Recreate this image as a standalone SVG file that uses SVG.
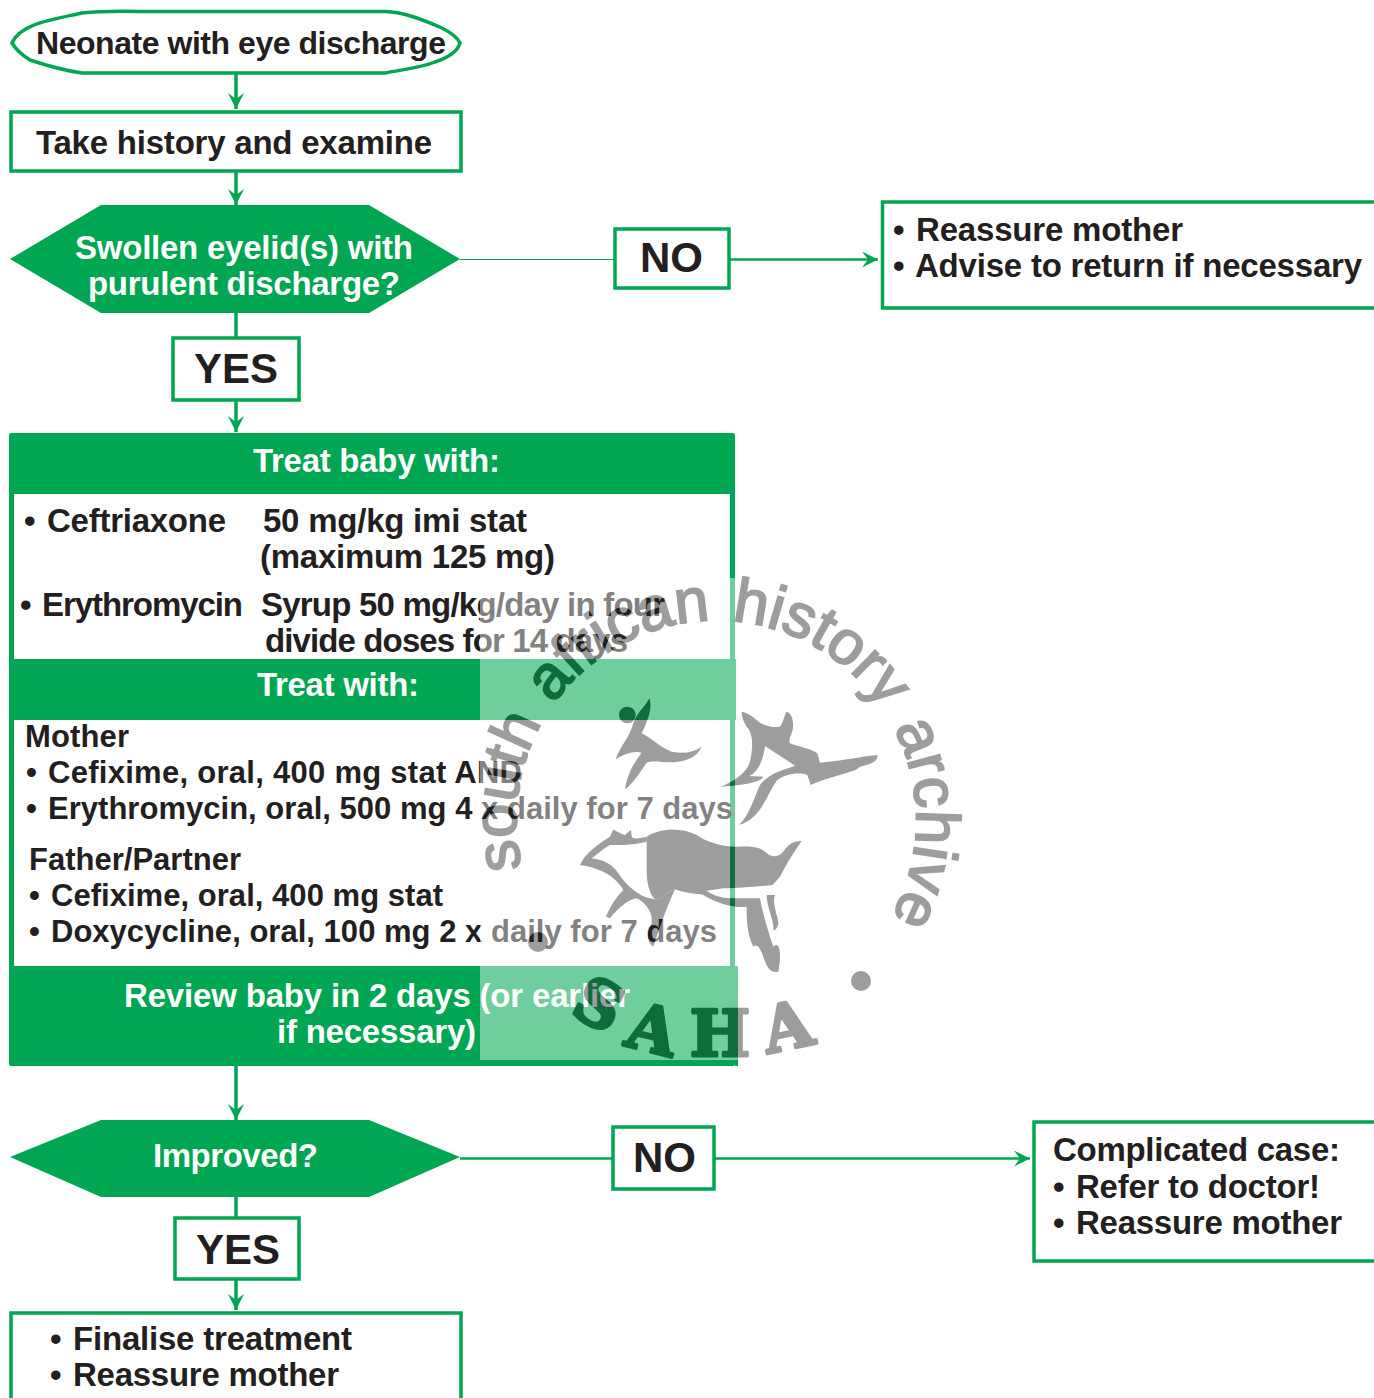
<svg xmlns="http://www.w3.org/2000/svg" width="1374" height="1398" viewBox="0 0 1374 1398">
<defs>
<marker id="arr" markerUnits="userSpaceOnUse" markerWidth="18" markerHeight="18" refX="16" refY="8" orient="auto"><path d="M0,0L16,8L0,16L6,8Z" fill="#00a651"/></marker>
</defs>
<style>
text{font-family:"Liberation Sans",Arial,sans-serif;font-weight:700;font-size:33px;fill:#231f20}
.w{fill:#fff}
.big{font-size:42px}
.box{fill:#fff;stroke:#00a651;stroke-width:3.500}
.g{fill:#00a651}
.c{fill:none;stroke:#00a651;stroke-width:3.500}
.t{fill:none;stroke:#00a651;stroke-width:1}
.n{stroke-width:2.500}
.m{font-size:31px}
.wm{fill:#232323;font-size:61.500px;font-weight:400;word-spacing:4px;stroke:#232323;stroke-width:2}
.sl{fill:#232323;stroke:#232323;stroke-width:3;stroke-linejoin:round;font-family:"DejaVu Serif",serif;font-weight:700;font-size:64px;text-anchor:middle}
</style>
<g id="connectors">
<path class="c" d="M236,74V109" marker-end="url(#arr)"/>
<path class="c" d="M236,171V205" marker-end="url(#arr)"/>
<path class="c" d="M236,313V338"/>
<path class="c" d="M236,401V432" marker-end="url(#arr)"/>
<path class="t" d="M460,259.500H615"/>
<path class="c n" d="M730,259.500H878" marker-end="url(#arr)"/>
<path class="c" d="M236,1066V1120" marker-end="url(#arr)"/>
<path class="c n" d="M460,1158.500H613"/>
<path class="c n" d="M715,1158.500H1030" marker-end="url(#arr)"/>
<path class="c" d="M236,1196V1218"/>
<path class="c" d="M236,1279V1310" marker-end="url(#arr)"/>
</g>
<g id="start">
<path class="box" d="M12,43C20,24 50,20 82,13C100,11 120,11 140,11.500H385C405,12 425,21 440,27C452,33 458,38 460,43C458,50 450,57 435,62C420,68 400,70 385,73H82C60,70 45,65 30,60C22,55 15,48 12,43Z"/>
<text x="36" y="54" font-size="32" style="font-size:32px" textLength="410">Neonate with eye discharge</text>
</g>
<g id="history">
<rect class="box" x="11" y="112" width="450" height="59"/>
<text x="36" y="154" textLength="396">Take history and examine</text>
</g>
<g id="swollen">
<path class="g" d="M10,259L101,205H369L460,259L369,313H101Z"/>
<text class="w" x="75" y="259" textLength="338">Swollen eyelid(s) with</text>
<text class="w" x="88" y="295" textLength="312">purulent discharge?</text>
</g>
<g id="yes1">
<rect class="box" x="173" y="338" width="126" height="62"/>
<text class="big" x="194" y="383">YES</text>
</g>
<g id="no1">
<rect class="box" x="615" y="229" width="114" height="59"/>
<text class="big" x="640" y="272">NO</text>
</g>
<g id="reassure">
<rect class="box" x="882.500" y="202" width="495" height="106"/>
<text x="893" y="241">•</text><text x="916" y="241" textLength="267">Reassure mother</text>
<text x="893" y="277">•</text><text x="915" y="277" textLength="447">Advise to return if necessary</text>
</g>
<g id="treat">
<rect class="g" x="9" y="433" width="726" height="633" rx="2"/>
<rect x="14" y="494" width="716" height="165" fill="#fff"/>
<rect x="730" y="659" width="6" height="61" class="g"/>
<rect x="14" y="720" width="716" height="246" fill="#fff"/>
<rect x="735" y="966" width="3" height="100" class="g"/>
<text class="w" x="253" y="472" textLength="247">Treat baby with:</text>
<text x="24" y="532">•</text><text x="47" y="532" textLength="179">Ceftriaxone</text>
<text x="263" y="532" textLength="264">50 mg/kg imi stat</text>
<text x="260" y="568" textLength="295">(maximum 125 mg)</text>
<text x="20" y="616">•</text><text x="42" y="616" textLength="201">Erythromycin</text>
<text x="261" y="616" textLength="404">Syrup 50 mg/kg/day in four</text>
<text x="265" y="652" textLength="363">divide doses for 14 days</text>
<text class="w" x="257" y="696" textLength="162">Treat with:</text>
<text class="m" x="25" y="747" textLength="104">Mother</text>
<text class="m" x="26" y="783">•</text><text class="m" x="48" y="783" textLength="474">Cefixime, oral,  400 mg stat AND</text>
<text class="m" x="26" y="819">•</text><text class="m" x="48" y="819" textLength="685">Erythromycin, oral, 500 mg 4 x daily for 7 days</text>
<text class="m" x="29" y="870" textLength="212">Father/Partner</text>
<text class="m" x="29" y="906">•</text><text class="m" x="51" y="906" textLength="392">Cefixime, oral, 400 mg stat</text>
<text class="m" x="29" y="942">•</text><text class="m" x="51" y="942" textLength="666">Doxycycline, oral, 100 mg 2 x daily for 7 days</text>
<text class="w" x="124" y="1007" textLength="506">Review baby in 2 days (or earlier</text>
<text class="w" x="277" y="1043" textLength="199">if necessary)</text>
</g>
<g id="improved">
<path class="g" d="M10,1157L101,1120H369L460,1157L369,1197H101Z"/>
<text class="w" x="153" y="1167" textLength="165">Improved?</text>
</g>
<g id="no2">
<rect class="box" x="613" y="1127" width="101" height="62"/>
<text class="big" x="633" y="1172">NO</text>
</g>
<g id="complicated">
<rect class="box" x="1034" y="1122" width="345" height="139"/>
<text x="1053" y="1161" textLength="287">Complicated case:</text>
<text x="1053" y="1198">•</text><text x="1076" y="1198" textLength="244">Refer to doctor!</text>
<text x="1053" y="1234">•</text><text x="1076" y="1234" textLength="266">Reassure mother</text>
</g>
<g id="yes2">
<rect class="box" x="175" y="1218" width="124" height="61"/>
<text class="big" x="196" y="1264">YES</text>
</g>
<g id="finalise">
<rect class="box" x="11" y="1313" width="450" height="100"/>
<text x="50" y="1350">•</text><text x="73" y="1350" textLength="279">Finalise treatment</text>
<text x="50" y="1386">•</text><text x="73" y="1386" textLength="266">Reassure mother</text>
</g>
<g id="watermark" opacity="0.44">
<rect x="480" y="578" width="500" height="482" fill="#fff"/>
<path id="arc" d="M522,868A200,200 0 1 1 830,985" fill="none"/>
<text class="wm"><textPath href="#arc">south african history archive</textPath></text>
<circle cx="538" cy="942" r="10" fill="#232323"/>
<circle cx="861" cy="981" r="10" fill="#232323"/>
<text class="sl" transform="translate(600,1003) rotate(28) translate(0,24)">S</text>
<text class="sl" transform="translate(653,1028) rotate(14) translate(0,24)">A</text>
<text class="sl" transform="translate(720,1032) rotate(0) translate(0,24)">H</text>
<text class="sl" transform="translate(787,1025) rotate(-12) translate(0,24)">A</text>
<g transform="translate(470,570) scale(0.3333)" fill="#232323">
<circle cx="472" cy="435" r="25"/>
<path d="M538,385C548,410 535,450 515,490C545,505 575,535 605,545C640,552 670,548 695,530C680,565 640,578 590,577C565,575 545,572 530,578C510,605 495,635 465,658C470,620 490,580 515,548C490,542 465,552 437,568C450,530 480,500 490,460C500,430 525,410 538,385Z"/>
<path d="M815,425C840,430 860,450 872,460C895,470 920,475 932,468C942,450 945,430 950,425C968,430 972,460 968,480C962,500 955,510 960,520C985,530 1020,535 1042,550L1050,578C1100,575 1170,560 1222,555C1224,572 1210,582 1170,590C1155,608 1080,618 1022,645L1012,615C985,605 945,612 920,632C890,675 870,750 808,764C838,735 850,690 870,645C895,610 940,600 975,587C950,570 910,545 885,528C880,570 865,605 838,618L880,620C875,638 800,648 752,650C790,635 830,610 840,575C850,530 850,490 830,470C820,455 815,440 815,425Z"/>
<path d="M530,800C580,770 640,775 680,795C710,815 750,830 800,830C840,828 870,830 885,845C905,865 925,860 935,850C950,835 955,815 995,812C970,850 950,880 930,920L908,945C860,950 800,955 760,955L710,962C740,985 780,985 800,985L870,985C880,1040 900,1100 910,1130C930,1110 935,1150 925,1205C900,1210 890,1190 880,1160C870,1130 860,1120 850,1130C830,1090 830,1040 830,1010C800,1015 750,1005 700,975C680,970 640,970 615,958C590,965 575,985 565,990C545,990 530,950 530,900Z"/>
<path d="M330,885C340,860 370,830 420,800L430,778C440,785 450,790 465,795L482,780C490,795 470,815 530,800L530,815C490,825 450,825 420,825C400,835 380,855 365,865C400,870 425,880 445,910C470,950 510,980 540,985L565,990C575,985 590,965 615,958C600,990 580,1040 550,1130C535,1120 525,1095 545,1060C550,1030 530,1000 500,985C470,990 440,1020 420,1045L408,1040C420,1010 440,980 460,960C440,925 400,895 330,885Z"/>
<path d="M890,975L915,975C905,1000 925,1040 925,1060C925,1070 915,1085 910,1080C915,1060 890,1010 890,975Z"/>
</g>
</g>
</svg>
